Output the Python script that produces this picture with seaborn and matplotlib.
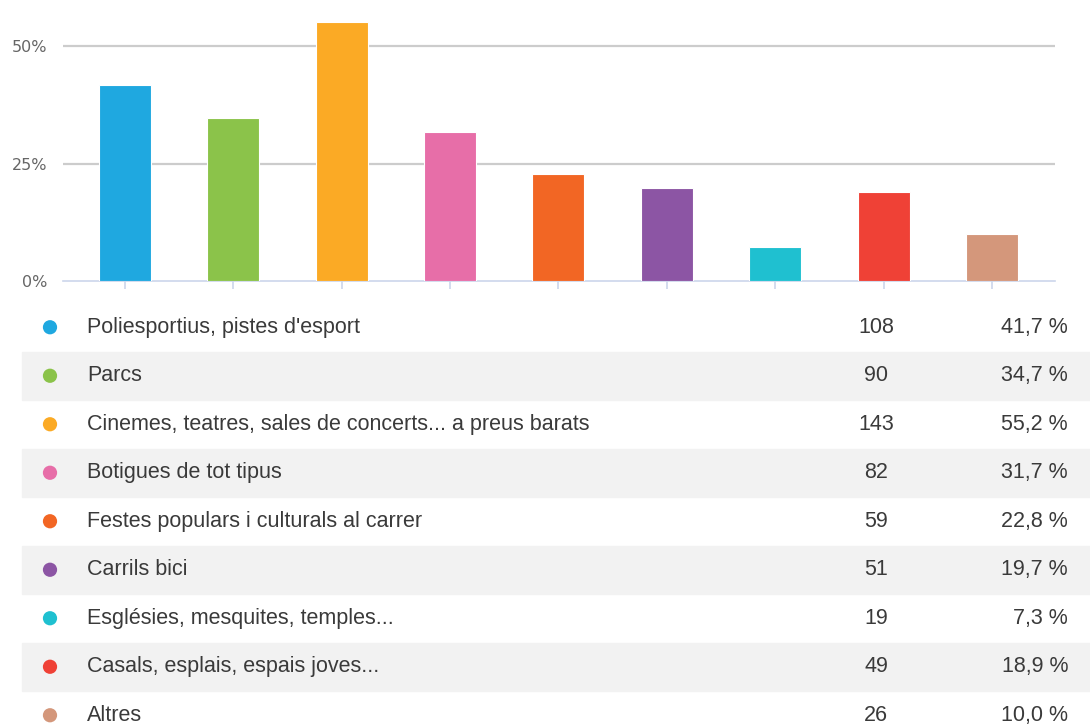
import matplotlib
matplotlib.use("Agg")
import matplotlib.pyplot as plt
import numpy as np
import pandas as pd
import seaborn as sns

categories = [
    "Poliesportius, pistes d'esport",
    "Parcs",
    "Cinemes, teatres, sales de concerts... a preus barats",
    "Botigues de tot tipus",
    "Festes populars i culturals al carrer",
    "Carrils bici",
    "Esglésies, mesquites, temples...",
    "Casals, esplais, espais joves...",
    "Altres",
]
counts = [108, 90, 143, 82, 59, 51, 19, 49, 26]
percents = [41.7, 34.7, 55.2, 31.7, 22.8, 19.7, 7.3, 18.9, 10.0]
colors = ["#1fa8e0", "#8bc34a", "#fbaa25", "#e76ea8", "#f26624",
          "#8c55a4", "#1fc0d0", "#ef4136", "#d4977b"]
y_ticks = [0, 25, 50]
y_labels = ["0%", "25%", "50%"]

sns.set_theme(style="white")
plt.rcParams["font.family"] = ["Liberation Sans", "DejaVu Sans"]

W, H = 1090, 724
fig = plt.figure(figsize=(W / 100, H / 100), dpi=100)

# bar chart
ax = fig.add_axes([63 / W, 1 - 281 / H, 992 / W, 281 / H])
df = pd.DataFrame({"cat": categories, "pct": percents})
sns.barplot(data=df, x="cat", y="pct", hue="cat", palette=colors,
            legend=False, width=0.48, edgecolor="white", linewidth=0.8,
            saturation=1, ax=ax, zorder=3)
ax.set_xlim(-0.57, 8.58)
ax.set_ylim(0, 59.8)
ax.set_yticks(y_ticks)
ax.set_yticklabels(y_labels, fontsize=11.5, color="#666666",
                   family=["DejaVu Sans"])
ax.set_xticks(range(len(categories)))
ax.set_xticklabels([])
ax.set_xlabel("")
ax.set_ylabel("")
for v in y_ticks[1:]:
    ax.axhline(v, color="#cccccc", linewidth=1.6, zorder=1)
for side in ["top", "right", "left"]:
    ax.spines[side].set_visible(False)
ax.spines["bottom"].set_color("#ccd6eb")
ax.spines["bottom"].set_linewidth(1.2)
ax.tick_params(axis="x", bottom=True, length=6, width=1.2, color="#ccd6eb",
               direction="out")
ax.tick_params(axis="y", left=False, length=0, pad=11)

# table below
row_h = 48.5
top = 303
tab_h = row_h * len(categories)
tax = fig.add_axes([0, 1 - (top + tab_h) / H, 1, tab_h / H])
for i in range(len(categories)):
    if i % 2 == 1:
        tax.axhspan(i, i + 1, xmin=22 / W, xmax=1, color="#f2f2f2", zorder=0)

rows = pd.DataFrame({"x": [50] * len(categories),
                     "y": np.arange(len(categories)) + 0.5,
                     "cat": categories})
sns.scatterplot(data=rows, x="x", y="y", hue="cat", palette=colors,
                s=105, linewidth=0, legend=False, ax=tax, zorder=3)
tax.set_xlim(0, W)
tax.set_ylim(len(categories), 0)
tax.axis("off")

for i, (c, n, p) in enumerate(zip(categories, counts, percents)):
    y = i + 0.5
    tax.text(87, y, c, va="center", ha="left", fontsize=15.5, color="#3a3a3a")
    tax.text(876, y, str(n), va="center", ha="center", fontsize=15.5,
             color="#3a3a3a")
    tax.text(1068, y, f"{p:.1f} %".replace(".", ","), va="center",
             ha="right", fontsize=15.5, color="#3a3a3a")

fig.savefig("out.png", dpi=100)
